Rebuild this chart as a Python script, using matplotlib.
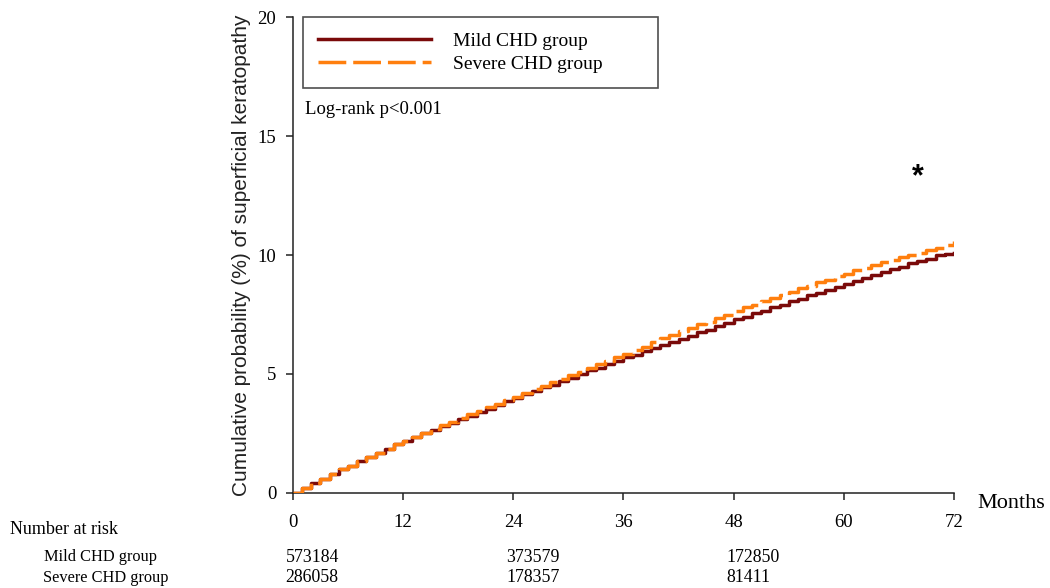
import numpy as np
import matplotlib
matplotlib.use('Agg')
import matplotlib.pyplot as plt

# Data (cumulative %, monthly)
months = list(range(0, 73))
mild = [0.0, 0.2, 0.4, 0.6, 0.8, 1.0, 1.15, 1.35, 1.5, 1.7, 1.85, 2.05, 2.2,
        2.35, 2.5, 2.65, 2.8, 2.95, 3.1, 3.25, 3.4, 3.55, 3.7, 3.85, 4.0,
        4.15, 4.3, 4.45, 4.55, 4.7, 4.85, 5.0, 5.15, 5.25, 5.4, 5.55, 5.7,
        5.8, 5.95, 6.1, 6.2, 6.35, 6.45, 6.6, 6.75, 6.85, 7.0, 7.15, 7.3,
        7.4, 7.55, 7.65, 7.8, 7.9, 8.05, 8.15, 8.3, 8.4, 8.55, 8.65, 8.8,
        8.9, 9.05, 9.15, 9.3, 9.4, 9.5, 9.65, 9.75, 9.85, 10.0, 10.05, 10.1]
severe = [0.0, 0.2, 0.4, 0.6, 0.8, 1.0, 1.15, 1.35, 1.5, 1.7, 1.85, 2.05, 2.2,
          2.35, 2.5, 2.7, 2.85, 3.0, 3.15, 3.3, 3.45, 3.6, 3.75, 3.9, 4.05,
          4.2, 4.35, 4.5, 4.65, 4.8, 4.95, 5.1, 5.25, 5.4, 5.55, 5.7, 5.85,
          6.0, 6.15, 6.35, 6.5, 6.65, 6.8, 6.95, 7.1, 7.2, 7.35, 7.5, 7.65,
          7.8, 7.9, 8.05, 8.2, 8.3, 8.45, 8.6, 8.7, 8.85, 8.95, 9.1, 9.2,
          9.35, 9.45, 9.6, 9.7, 9.8, 9.9, 10.0, 10.1, 10.2, 10.3, 10.4, 10.6]

groups = ['Mild CHD group', 'Severe CHD group']
risk_months = [0, 24, 48]
risk_mild = ['573184', '373579', '172850']
risk_severe = ['286058', '178357', '81411']
x_ticks = [0, 12, 24, 36, 48, 60, 72]
y_ticks = [0, 5, 10, 15, 20]

serif = 'Liberation Serif'
sans = 'Liberation Sans'

fig = plt.figure(figsize=(10.5, 5.88), dpi=100)
ax = fig.add_axes([0.279, 0.1616, 0.6296, 0.8094])

ax.plot(months, mild, drawstyle='steps-post', color='#7a0a0a', lw=2.5,
        label=groups[0], zorder=2)
ax.plot(months, severe, drawstyle='steps-post', color='#ff7f0e', lw=2.5,
        dashes=(8, 2), label=groups[1], zorder=3)

ax.set_xlim(0, 72)
ax.set_ylim(0, 20)
ax.set_xticks(x_ticks)
ax.set_yticks(y_ticks)
for s in ['top', 'right']:
    ax.spines[s].set_visible(False)
for s in ['left', 'bottom']:
    ax.spines[s].set_linewidth(1.1)
    ax.spines[s].set_color('#222222')
ax.tick_params(axis='both', direction='out', length=5, width=1.1,
               color='#222222', labelsize=13.5)
ax.tick_params(axis='x', pad=10)
ax.tick_params(axis='y', pad=7)
for lab in ax.get_xticklabels() + ax.get_yticklabels():
    lab.set_family(serif)

ax.set_ylabel('Cumulative probability (%) of superficial keratopathy',
              family=sans, fontsize=15, color='#222222')
ax.yaxis.set_label_coords(-0.064, 0.5)

leg = ax.legend(loc='upper left', bbox_to_anchor=(0.015, 0.85, 0.537, 0.15),
                mode='expand', frameon=True, fancybox=False, edgecolor='#222222',
                prop={'family': serif, 'size': 14}, handlelength=5.8,
                handletextpad=1.1, labelspacing=0.25, borderpad=0.8,
                borderaxespad=0)
leg.get_frame().set_linewidth(1.2)

ax.text(0.018, 0.805, 'Log-rank p<0.001', transform=ax.transAxes,
        family=serif, fontsize=13.5, va='center')
ax.text(68.1, 13.25, '*', family=sans, fontsize=22, fontweight='bold',
        ha='center', va='center')

# axis title and number-at-risk table
fig.text(0.931, 1 - 503 / 588, 'Months', family=serif, fontsize=16, va='center')
fig.text(0.01, 1 - 529 / 588, 'Number at risk', family=serif, fontsize=13,
         va='center')
fig.text(0.042, 1 - 557 / 588, groups[0], family=serif, fontsize=11.8, va='center')
fig.text(0.041, 1 - 578 / 588, groups[1], family=serif, fontsize=11.8, va='center')
trans = matplotlib.transforms.blended_transform_factory(ax.transData, fig.transFigure)
for m, a, b in zip(risk_months, risk_mild, risk_severe):
    ax.text(m - 0.8, 1 - 557 / 588, a, transform=trans, family=serif,
            fontsize=12.8, va='center', ha='left')
    ax.text(m - 0.8, 1 - 578 / 588, b, transform=trans, family=serif,
            fontsize=12.8, va='center', ha='left')

fig.savefig('out.png', dpi=100)
